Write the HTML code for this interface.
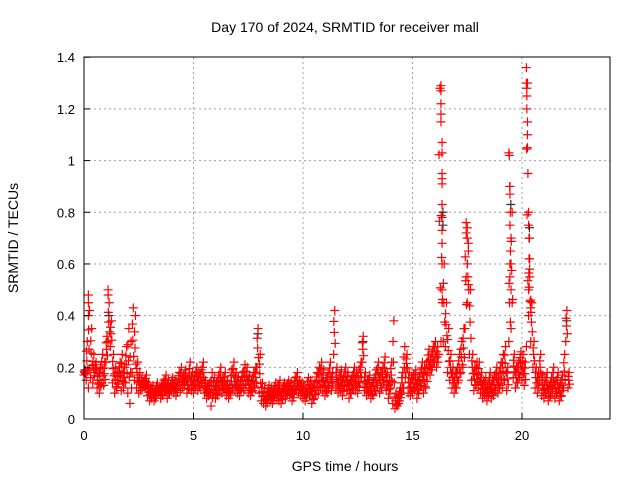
<!DOCTYPE html>
<html><head><meta charset="utf-8"><style>
body{margin:0;background:#fff;}
svg{display:block;font-family:"Liberation Sans",sans-serif;}
</style></head><body>
<svg id="c" width="640" height="480">
<rect width="640" height="480" fill="#fff"/>
<text x="345" y="32" font-size="14" text-anchor="middle">Day 170 of 2024, SRMTID for receiver mall</text>
<text x="345" y="471" font-size="14" text-anchor="middle">GPS time / hours</text>
<text transform="translate(18,238) rotate(-90)" font-size="14" text-anchor="middle">SRMTID / TECUs</text>
<g id="grid"></g><g id="marks"></g><g id="axes"></g>
</svg>
<script>
const xTicks=[0,5,10,15,20];
const yTicks=[0,0.2,0.4,0.6,0.8,1,1.2,1.4];
const yTickLabels=["0","0.2","0.4","0.6","0.8","1","1.2","1.4"];
const baseStart=0, baseStep=0.1;
const loVals=[.17,.15,.12,.16,.14,.18,.12,.10,.14,.13,
.22,.30,.28,.14,.10,.12,.15,.11,.12,.14,
.10,.06,.18,.15,.12,.10,.11,.13,.12,.09,
.07,.08,.07,.09,.10,.08,.09,.11,.08,.10,
.12,.10,.09,.13,.11,.12,.14,.10,.12,.11,
.10,.13,.11,.12,.14,.10,.08,.09,.05,.10,
.08,.09,.12,.10,.11,.09,.08,.10,.12,.11,
.10,.09,.12,.11,.13,.10,.09,.11,.12,.20,
.10,.07,.06,.05,.08,.07,.06,.09,.08,.07,
.06,.09,.08,.10,.09,.07,.10,.11,.10,.09,
.08,.07,.10,.09,.06,.08,.11,.10,.12,.11,
.09,.10,.13,.11,.25,.12,.10,.11,.09,.13,
.11,.08,.10,.12,.11,.10,.14,.22,.11,.09,
.10,.08,.09,.11,.13,.10,.12,.15,.11,.08,
.12,.06,.04,.05,.07,.10,.12,.18,.10,.09,
.10,.12,.08,.11,.13,.10,.12,.18,.17,.20,
.22,.20,.25,.30,.30,.28,.18,.15,.12,.10,
.12,.15,.18,.20,.35,.45,.25,.15,.11,.13,
.12,.10,.08,.09,.07,.10,.08,.09,.11,.10,
.13,.12,.15,.11,.30,.35,.16,.12,.14,.17,
.15,.13,.28,.40,.30,.20,.12,.10,.15,.09,
.08,.10,.07,.09,.12,.08,.10,.07,.09,.12,
.30,.12];
const hiVals=[.19,.30,.42,.35,.25,.22,.18,.20,.25,.22,
.32,.45,.38,.25,.20,.18,.22,.25,.20,.28,
.35,.30,.43,.40,.22,.18,.16,.15,.17,.14,
.12,.13,.11,.14,.12,.13,.15,.17,.15,.13,
.16,.15,.14,.18,.20,.17,.19,.16,.22,.18,
.17,.20,.18,.19,.22,.15,.13,.14,.18,.16,
.14,.17,.20,.16,.18,.15,.13,.19,.22,.18,
.16,.15,.18,.21,.20,.17,.15,.18,.20,.35,
.25,.14,.12,.10,.13,.12,.11,.14,.13,.15,
.12,.14,.13,.15,.14,.12,.16,.18,.15,.14,
.13,.12,.16,.15,.12,.14,.18,.20,.22,.19,
.16,.18,.22,.18,.42,.20,.17,.19,.16,.20,
.18,.15,.17,.20,.18,.19,.22,.32,.18,.15,
.17,.14,.16,.19,.22,.18,.20,.24,.18,.15,
.22,.38,.10,.09,.12,.18,.28,.25,.18,.16,
.17,.19,.15,.18,.22,.20,.22,.27,.25,.28,
.30,.28,1.28,.95,.60,.45,.35,.25,.20,.18,
.20,.25,.30,.35,.72,.65,.50,.25,.20,.22,
.22,.18,.15,.16,.14,.18,.15,.17,.20,.18,
.22,.25,.28,.20,.60,.80,.25,.20,.22,.26,
.25,.22,1.30,.62,.45,.30,.20,.18,.25,.17,
.15,.18,.13,.16,.20,.15,.18,.14,.17,.25,
.42,.18];
const spikeTimes=[0.2,0.2,0.2,1.1,1.1,
16.3,16.3,16.3,16.3,16.3,
16.35,16.35,16.35,16.35,16.35,16.35,16.35,16.35,16.35,16.35,16.35,
17.45,17.5,17.5,17.55,17.5,17.45,17.55,
19.4,19.42,19.45,19.45,19.47,19.45,19.5,19.47,19.5,19.45,19.5,19.55,
20.2,20.2,20.22,20.22,20.22,20.25,20.25,20.25,20.27,
20.3,20.3,20.32,20.32,20.35,20.35,20.3,20.4,20.4];
const spikeVals=[0.48,0.45,0.40,0.50,0.48,
1.29,1.27,1.22,1.18,1.15,
1.07,1.03,0.93,0.91,0.83,0.78,0.73,0.68,0.60,0.50,0.45,
0.76,0.74,0.70,0.68,0.60,0.55,0.52,
1.03,1.02,0.90,0.87,0.80,0.75,0.70,0.65,0.60,0.55,0.50,0.45,
1.36,1.30,1.28,1.25,1.20,1.15,1.10,1.05,0.95,
0.80,0.75,0.70,0.62,0.58,0.55,0.50,0.46,0.43];
const blackTimes=[16.35,16.35,19.4,19.45,20.3,20.3,1.1,7.9,12.7,22.0];
const blackVals=[0.80,0.75,0.90,0.83,0.74,0.70,0.40,0.33,0.30,0.38];

const X0=84,XS=21.9,Y0=419,YS=258.4;
const sx=t=>X0+t*XS, sy=v=>Y0-v*YS;
const NS='http://www.w3.org/2000/svg';
function mk(tag,attrs,parent){const e=document.createElementNS(NS,tag);for(const k in attrs)e.setAttribute(k,attrs[k]);parent.appendChild(e);return e;}
const grid=document.getElementById('grid'),axes=document.getElementById('axes'),marks=document.getElementById('marks');
const L=84,R=610,T=57,B=419;
xTicks.forEach(t=>{const x=sx(t);
 if(t>0){const g=mk('line',{x1:x,x2:x,y1:T,y2:B,stroke:'#a0a0a0','stroke-dasharray':'2,3'},grid);
 
 }
 const tk=mk('line',{x1:x,x2:x,y1:B,y2:B-6,stroke:'#000'},axes);
 
 
 const lb=mk('text',{x:x,y:B+21,'font-size':13,'text-anchor':'middle'},axes);lb.textContent=String(t);
 
 
});
yTicks.forEach((v,i)=>{const y=sy(v);
 if(v>0&&v<1.4){const g=mk('line',{x1:L,x2:R,y1:y,y2:y,stroke:'#a0a0a0','stroke-dasharray':'2,3'},grid);
 
 }
 const tk=mk('line',{x1:L,x2:L+6,y1:y,y2:y,stroke:'#000'},axes);
 
 
 const lb=mk('text',{x:L-9,y:y+5,'font-size':13,'text-anchor':'end'},axes);lb.textContent=yTickLabels[i];
 
 
});
const fr=mk('rect',{x:L,y:T,width:R-L,height:B-T,fill:'none',stroke:'#000'},axes);


function plus(t,v,col,name){const x=sx(t),y=sy(v);
 const p=mk('path',{d:`M${x-4.5} ${y}h9M${x} ${y-4.5}v9`,stroke:col,'stroke-width':1.2,fill:'none'},marks);
 
 }
blackTimes.forEach((t,i)=>plus(t+0.04,blackVals[i],'#333','point-black'));
loVals.forEach((v,i)=>plus(baseStart+i*baseStep,v,'#ff0000','point-red'));
hiVals.forEach((v,i)=>plus(baseStart+i*baseStep+0.05,v,'#ff0000','point-red'));
loVals.forEach((v,i)=>{const h=hiVals[i];plus(baseStart+i*baseStep+0.03,(v+h)/2,'#ff0000','point-red');});
loVals.forEach((v,i)=>{const h=hiVals[i];plus(baseStart+i*baseStep+0.07,v+(h-v)*0.25,'#ff0000','point-red');});
loVals.forEach((v,i)=>{const h=hiVals[i];plus(baseStart+i*baseStep+0.01,v+(h-v)*0.75,'#ff0000','point-red');});
spikeTimes.forEach((t,i)=>plus(t,spikeVals[i],'#ff0000','point-red'));
</script>
</body></html>
